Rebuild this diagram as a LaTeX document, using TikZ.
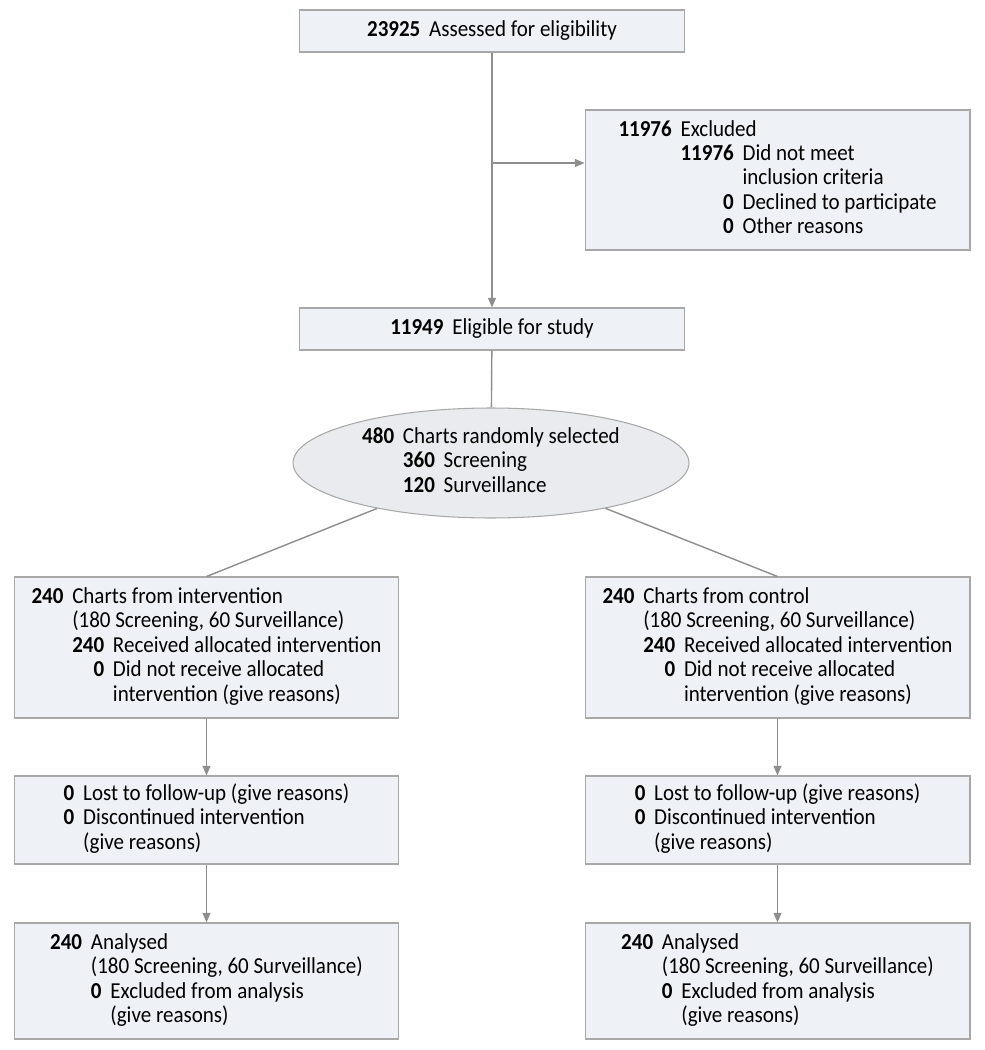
\documentclass[tikz,border=0pt]{standalone}
\usepackage{fontspec}
\setmainfont{Carlito}[FakeStretch=0.92]
\usetikzlibrary{shapes.geometric,arrows.meta}
\definecolor{boxfill}{HTML}{EEF1F5}
\definecolor{boxline}{HTML}{A8A8A8}
\definecolor{ellfill}{HTML}{E9EBEE}
\definecolor{linkgray}{HTML}{8E8E8E}
\newcommand{\cnt}[1]{\textbf{#1}}
\newenvironment{rows}[1][c]{\begin{tabular}[#1]{@{}r@{\hspace{5pt}}l@{}}}{\end{tabular}}

\begin{document}
\begin{tikzpicture}[x=0.02cm,y=-0.02cm,
  box/.style={draw=boxline,fill=boxfill,line width=0.6pt,minimum width=7.7cm,inner sep=0pt,font=\fontsize{13}{13.9}\selectfont},
  link/.style={draw=linkgray,line width=0.8pt},
  arrow/.style={link,-{Triangle[length=5.5pt,width=4.5pt]}}]
\useasboundingbox (0,0) rectangle (984,1050);
\node[box,minimum height=0.84cm] (assess) at (492,31) {\cnt{23925}\hspace{5pt}Assessed for eligibility};
\node[box,minimum height=2.8cm] (excl) at (777.5,180) {\begin{rows}\cnt{11976}&Excluded\\
  &\begin{rows}[t]\cnt{11976}&Did not meet\\ &inclusion criteria\\ \cnt{0}&Declined to participate\\ \cnt{0}&Other reasons\end{rows}\end{rows}};
\node[box,minimum height=0.84cm] (elig) at (492,329) {\cnt{11949}\hspace{5pt}Eligible for study};
\node[box,ellipse,fill=ellfill,minimum width=7.92cm,minimum height=2.2cm] (rand) at (491,463) {\begin{rows}\cnt{480}&Charts randomly selected\\
  &\begin{rows}[t]\cnt{360}&Screening\\ \cnt{120}&Surveillance\end{rows}\end{rows}};
\node[box,minimum height=2.82cm] (lalloc) at (206.5,647.5) {\begin{rows}\cnt{240}&Charts from intervention\\ &(180 Screening, 60 Surveillance)\\
  &\begin{rows}[t]\cnt{240}&Received allocated intervention\\ \cnt{0}&Did not receive allocated\\ &intervention (give reasons)\end{rows}\end{rows}};
\node[box,minimum height=2.82cm] (ralloc) at (777.5,647.5) {\begin{rows}\cnt{240}&Charts from control\\ &(180 Screening, 60 Surveillance)\\
  &\begin{rows}[t]\cnt{240}&Received allocated intervention\\ \cnt{0}&Did not receive allocated\\ &intervention (give reasons)\end{rows}\end{rows}};
\node[box,minimum height=1.76cm] (lfup) at (206.5,820) {\begin{rows}\cnt{0}&Lost to follow-up (give reasons)\\ \cnt{0}&Discontinued intervention\\ &(give reasons)\end{rows}};
\node[box,minimum height=1.76cm] (rfup) at (777.5,820) {\begin{rows}\cnt{0}&Lost to follow-up (give reasons)\\ \cnt{0}&Discontinued intervention\\ &(give reasons)\end{rows}};
\node[box,minimum height=2.32cm] (lanal) at (206.5,981) {\begin{rows}\cnt{240}&Analysed\\ &(180 Screening, 60 Surveillance)\\
  &\begin{rows}[t]\cnt{0}&Excluded from analysis\\ &(give reasons)\end{rows}\end{rows}};
\node[box,minimum height=2.32cm] (ranal) at (777.5,981) {\begin{rows}\cnt{240}&Analysed\\ &(180 Screening, 60 Surveillance)\\
  &\begin{rows}[t]\cnt{0}&Excluded from analysis\\ &(give reasons)\end{rows}\end{rows}};
\coordinate (split) at (492,163);
\draw[arrow] (assess) -- (elig);
\draw[arrow] (split) -- (split -| excl.west);
\draw[link] (elig) -- (rand);
\draw[link] (rand) -- (lalloc.north);
\draw[link] (rand) -- (ralloc.north);
\draw[arrow] (lalloc) -- (lfup);
\draw[arrow] (ralloc) -- (rfup);
\draw[arrow] (lfup) -- (lanal);
\draw[arrow] (rfup) -- (ranal);
\end{tikzpicture}
\end{document}
